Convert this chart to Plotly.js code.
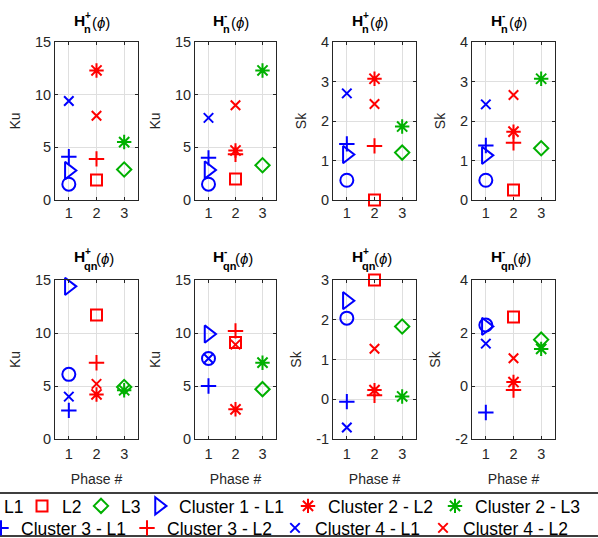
<!DOCTYPE html>
<html><head><meta charset="utf-8">
<script src="https://cdn.plot.ly/plotly-3.0.1.min.js"></script>
<style>html,body{margin:0;padding:0;background:#fff}#chart{width:598px;height:538px}</style>
</head><body><div id="chart"></div>
<script>
// ---- data ----
const seriesNames = ['L1','L2','L3','Cluster 1 - L1','Cluster 2 - L2','Cluster 2 - L3','Cluster 3 - L1','Cluster 3 - L2','Cluster 4 - L1','Cluster 4 - L2'];
const seriesPhase = [1,2,3,1,2,3,1,2,1,2];
const kuHnPlus    = [1.5, 1.9, 2.9, 2.8, 12.3, 5.5, 4.1, 3.9, 9.4, 8.0];
const kuHnMinus   = [1.5, 2.0, 3.3, 2.85, 4.7, 12.3, 4.0, 4.35, 7.8, 9.0];
const skHnPlus    = [0.5, 0.0, 1.2, 1.15, 3.07, 1.86, 1.42, 1.37, 2.7, 2.43];
const skHnMinus   = [0.5, 0.25, 1.31, 1.13, 1.73, 3.07, 1.38, 1.45, 2.42, 2.66];
const kuHqnPlus   = [6.1, 11.7, 4.9, 14.4, 4.2, 4.6, 2.7, 7.2, 4.0, 5.2];
const kuHqnMinus  = [7.6, 9.1, 4.7, 9.9, 2.8, 7.2, 5.0, 10.2, 7.6, 8.9];
const skHqnPlus   = [2.04, 3.0, 1.83, 2.48, 0.23, 0.07, -0.06, 0.1, -0.71, 1.27];
const skHqnMinus  = [2.3, 2.6, 1.75, 2.25, 0.15, 1.4, -1.0, -0.15, 1.6, 1.05];
const panelValues = [kuHnPlus, kuHnMinus, skHnPlus, skHnMinus, kuHqnPlus, kuHqnMinus, skHqnPlus, skHqnMinus];
const panelMetric = ['Ku','Ku','Sk','Sk','Ku','Ku','Sk','Sk'];
const panelSign   = ['+','-','+','-','+','-','+','-'];
const panelSub    = ['n','n','n','n','qn','qn','qn','qn'];
const phaseTicks  = [1,2,3];
const yTickVals   = [[0,5,10,15],[0,5,10,15],[0,1,2,3,4],[0,1,2,3,4],[0,5,10,15],[0,5,10,15],[-1,0,1,2,3],[-2,0,2,4]];
const yRanges     = [[0,15],[0,15],[0,4],[0,4],[0,15],[0,15],[-1,3],[-2,4]];

// ---- styles ----
const W = 598, H = 538;
const BLUE = '#0000ff', RED = '#ff0000', GREEN = '#00b000';
const seriesColor  = [BLUE, RED, GREEN, BLUE, RED, GREEN, BLUE, RED, BLUE, RED];
const seriesSymbol = ['circle-open','square-open','diamond-open','triangle-right-open','asterisk-open','asterisk-open','cross-thin-open','cross-thin-open','x-thin-open','x-thin-open'];
const seriesSize   = [13, 11, 11, 15, 12, 12, 11, 11, 9.5, 9.5];
// legend entry placement (text start px, row centre px)
const legTextX = [5, 63, 122, 180, 329, 476, 22, 168, 316, 464];
const legRowY  = [506, 506, 506, 506, 506, 506, 528, 528, 528, 528];
const colPx = [[55,138],[195,276],[333,416],[472,555]];
const rowPx = [[42,200],[280,439]];
const FONT = 'Liberation Sans, Arial, sans-serif';
const INK = '#262626';

const traces = [];
const layout = {
  width: W, height: H,
  margin: {l:0, r:0, t:0, b:0, autoexpand:false},
  paper_bgcolor: '#fff', plot_bgcolor: '#fff',
  font: {family: FONT, size: 14, color: INK},
  showlegend: true,
  annotations: [],
  shapes: [{type:'rect', xref:'paper', yref:'paper', x0:-0.02, x1:1.02, y0:1-536/H, y1:1-493/H,
            line:{color:'#000', width:1.3}, fillcolor:'rgba(0,0,0,0)', layer:'below'}]
};
const legendKey = i => i === 0 ? 'legend' : 'legend' + (i + 1);
for (let s = 0; s < seriesNames.length; s++) {
  layout[legendKey(s)] = {
    orientation: 'h', x: (legTextX[s] - 41) / W, xanchor: 'left',
    y: 1 - legRowY[s] / H, yanchor: 'middle',
    font: {family: FONT, size: 17.5, color: '#000'},
    bgcolor: 'rgba(0,0,0,0)', borderwidth: 0
  };
}

for (let p = 0; p < 8; p++) {
  const col = p % 4, row = Math.floor(p / 4);
  const ax = p === 0 ? '' : String(p + 1);
  const vals = panelValues[p];
  for (let s = 0; s < seriesNames.length; s++) {
    traces.push({
      type: 'scatter', mode: 'markers',
      x: [seriesPhase[s]], y: [vals[s]],
      xaxis: 'x' + ax, yaxis: 'y' + ax,
      name: seriesNames[s], legend: legendKey(s),
      showlegend: p === 0, cliponaxis: false,
      marker: {symbol: seriesSymbol[s], size: seriesSize[s], color: seriesColor[s],
               line: {color: seriesColor[s], width: 2}},
      hoverinfo: 'x+y+name'
    });
  }
  const xd = [colPx[col][0] / W, colPx[col][1] / W];
  const yd = [1 - rowPx[row][1] / H, 1 - rowPx[row][0] / H];
  layout['xaxis' + ax] = {
    domain: xd, anchor: 'y' + ax, range: [0.5, 3.5],
    tickvals: phaseTicks, ticktext: phaseTicks.map(String),
    showgrid: true, gridcolor: '#dfdfdf', gridwidth: 1, zeroline: false,
    showline: true, linecolor: INK, linewidth: 1, mirror: 'ticks',
    ticks: 'inside', ticklen: 3, tickcolor: INK, tickfont: {size: 14.5, color: INK},
    ticklabelstandoff: row === 1 ? 2 : 0,
    title: row === 1 ? {text: 'Phase #', font: {size: 14, color: INK}, standoff: 12} : {text: ''},
    fixedrange: true
  };
  layout['yaxis' + ax] = {
    domain: yd, anchor: 'x' + ax, range: yRanges[p],
    tickvals: yTickVals[p], ticktext: yTickVals[p].map(String),
    showgrid: true, gridcolor: '#dfdfdf', gridwidth: 1, zeroline: false,
    showline: true, linecolor: INK, linewidth: 1, mirror: 'ticks',
    ticks: 'inside', ticklen: 3, tickcolor: INK, tickfont: {size: 14.5, color: INK},
    title: {text: panelMetric[p], font: {size: 14, color: INK}, standoff: 11},
    fixedrange: true
  };
  // stacked title: H with super/sub script and (phi)
  const ty = row === 0 ? 20.5 : 257;
  const xr = 'x' + ax + ' domain';
  const base = {xref: xr, x: 0.5, yref: 'paper', xanchor: 'left', yanchor: 'middle', showarrow: false, borderpad: 0};
  layout.annotations.push(Object.assign({}, base, {text: '<b>H</b>', xshift: -24, y: 1 - ty / H, font: {family: FONT, size: 15.5, color: '#000'}}));
  layout.annotations.push(Object.assign({}, base, {text: '<b>' + panelSign[p] + '</b>', xshift: -13, y: 1 - (ty - 5) / H, font: {family: FONT, size: 10, color: '#000'}}));
  layout.annotations.push(Object.assign({}, base, {text: '<b>' + panelSub[p] + '</b>', xshift: -13.5, y: 1 - (ty + 9) / H, font: {family: FONT, size: 11, color: '#000'}}));
  layout.annotations.push(Object.assign({}, base, {text: '(<i>ϕ</i>)', xshift: panelSub[p] === 'n' ? -6 : -1.5, y: 1 - (ty + 1.5) / H, font: {family: FONT, size: 15, color: '#000'}}));
}

Plotly.newPlot('chart', traces, layout, {displayModeBar: false, staticPlot: true});
</script>
</body></html>
